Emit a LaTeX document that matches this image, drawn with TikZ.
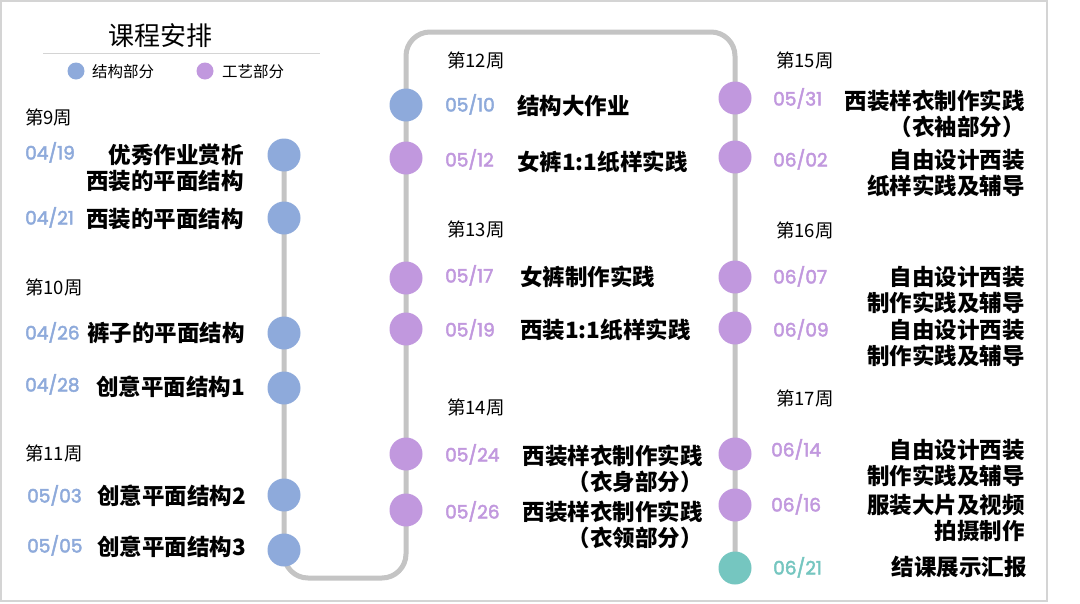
\documentclass[tikz,border=0pt]{standalone}
\usepackage{fontspec}
\usetikzlibrary{backgrounds}
\newfontfamily\cjk{Noto Sans CJK SC}
\newfontfamily\datef{Poppins}[FakeBold=2.5]
\definecolor{jg}{RGB}{142,170,219}
\definecolor{gy}{RGB}{193,152,222}
\definecolor{zj}{RGB}{117,198,192}
\definecolor{trackc}{RGB}{196,196,196}
\definecolor{bord}{RGB}{212,212,212}
\begin{document}
\begin{tikzpicture}[x=1pt,y=-1pt,
  dot/.style={circle,fill=#1,minimum size=33pt,inner sep=0pt},
  ldot/.style={circle,fill=#1,minimum size=17pt,inner sep=0pt},
  datel/.style={font=\datef\fontsize{18.5}{22}\selectfont,text=#1,anchor=base west,inner sep=0pt},
  wk/.style={font=\cjk\fontsize{18.5}{22}\selectfont,anchor=base west,inner sep=0pt},
  legtxt/.style={font=\cjk\fontsize{15.5}{18}\selectfont,anchor=base west,inner sep=0pt},
  itemr/.style={font=\cjk\bfseries\fontsize{22.5}{26}\selectfont,align=right,anchor=base east,inner sep=0pt},
  iteml/.style={font=\cjk\bfseries\fontsize{22.5}{26}\selectfont,anchor=base west,inner sep=0pt},
  trackline/.style={draw=trackc,line width=5pt,rounded corners=24pt}]
\useasboundingbox (0,0) rectangle (1080,603);

% title and legend
\node[font=\cjk\fontsize{26}{30}\selectfont,anchor=base,inner sep=0pt] (title) at (160,45) {课程安排};
\draw[bord,line width=1pt] (43,53) -- (320,53);
\node[ldot=jg] (lg1) at (76,71) {};
\node[legtxt] (lt1) at (92,77) {结构部分};
\node[ldot=gy] (lg2) at (205,71) {};
\node[legtxt] (lt2) at (222,77) {工艺部分};

% track corners
\coordinate (k1) at (284,578);
\coordinate (k2) at (406,578);
\coordinate (k3) at (406,32);
\coordinate (k4) at (735,32);

% dots
\node[dot=jg] (a1) at (284,155) {};
\node[dot=jg] (a2) at (284,218) {};
\node[dot=jg] (a3) at (284,333) {};
\node[dot=jg] (a4) at (284,388) {};
\node[dot=jg] (a5) at (284,495) {};
\node[dot=jg] (a6) at (284,550) {};
\node[dot=jg] (b1) at (406,105) {};
\node[dot=gy] (b2) at (406,158) {};
\node[dot=gy] (b3) at (406,278) {};
\node[dot=gy] (b4) at (406,329) {};
\node[dot=gy] (b5) at (406,454) {};
\node[dot=gy] (b6) at (406,510) {};
\node[dot=gy] (c1) at (735,98) {};
\node[dot=gy] (c2) at (735,157) {};
\node[dot=gy] (c3) at (735,277) {};
\node[dot=gy] (c4) at (735,328) {};
\node[dot=gy] (c5) at (735,454) {};
\node[dot=gy] (c6) at (735,505) {};
\node[dot=zj] (c7) at (735,568) {};

\begin{scope}[on background layer]
\fill[white] (0,0) rectangle (1080,603);
\draw[bord,line width=1.5pt] (1,1) rectangle (1047,601);
\draw[trackline] (a1.center) -- (k1) -- (k2) -- (k3) -- (k4) -- (c7.center);
\end{scope}

% week labels
\node[wk] (w9) at (25,124) {第9周};
\node[wk] (w10) at (25,294) {第10周};
\node[wk] (w11) at (25,460) {第11周};
\node[wk] (w12) at (447,67) {第12周};
\node[wk] (w13) at (447,236) {第13周};
\node[wk] (w14) at (447,414) {第14周};
\node[wk] (w15) at (776,67) {第15周};
\node[wk] (w16) at (776,237) {第16周};
\node[wk] (w17) at (776,405) {第17周};

% left column
\node[datel=jg] (da1) at (25,159.5) {04/19};
\node[datel=jg] (da2) at (25,224.5) {04/21};
\node[datel=jg] (da3) at (25,339.5) {04/26};
\node[datel=jg] (da4) at (25,391.5) {04/28};
\node[datel=jg] (da5) at (27,502.5) {05/03};
\node[datel=jg] (da6) at (27,552.5) {05/05};
\node[itemr] (ta1) at (244,189) {优秀作业赏析\\西装的平面结构};
\node[itemr] (ta2) at (244,227) {西装的平面结构};
\node[itemr] (ta3) at (245,341) {裤子的平面结构};
\node[itemr] (ta4) at (245,395) {创意平面结构1};
\node[itemr] (ta5) at (246,504) {创意平面结构2};
\node[itemr] (ta6) at (246,555) {创意平面结构3};

% middle column
\node[datel=jg] (db1) at (445,111.5) {05/10};
\node[datel=gy] (db2) at (445,166.5) {05/12};
\node[datel=gy] (db3) at (445,282.5) {05/17};
\node[datel=gy] (db4) at (445,336.5) {05/19};
\node[datel=gy] (db5) at (445,461.5) {05/24};
\node[datel=gy] (db6) at (445,518.5) {05/26};
\node[iteml] (tb1) at (517,114) {结构大作业};
\node[iteml] (tb2) at (517,170) {女裤1:1纸样实践};
\node[iteml] (tb3) at (520,285) {女裤制作实践};
\node[iteml] (tb4) at (520,338) {西装1:1纸样实践};
\node[itemr] (tb5) at (703,490) {西装样衣制作实践\\（衣身部分）};
\node[itemr] (tb6) at (703,546) {西装样衣制作实践\\（衣领部分）};

% right column
\node[datel=gy] (dc1) at (773,105.5) {05/31};
\node[datel=gy] (dc2) at (773,166.5) {06/02};
\node[datel=gy] (dc3) at (773,283.5) {06/07};
\node[datel=gy] (dc4) at (773,336.5) {06/09};
\node[datel=gy] (dc5) at (771,456.5) {06/14};
\node[datel=gy] (dc6) at (771,511.5) {06/16};
\node[datel=zj] (dc7) at (773,574.5) {06/21};
\node[itemr] (tc1) at (1025,135) {西装样衣制作实践\\（衣袖部分）};
\node[itemr] (tc2) at (1025,194) {自由设计西装\\纸样实践及辅导};
\node[itemr] (tc3) at (1025,311) {自由设计西装\\制作实践及辅导};
\node[itemr] (tc4) at (1025,364) {自由设计西装\\制作实践及辅导};
\node[itemr] (tc5) at (1025,484) {自由设计西装\\制作实践及辅导};
\node[itemr] (tc6) at (1025,539) {服装大片及视频\\拍摄制作};
\node[itemr] (tc7) at (1027,575) {结课展示汇报};
\end{tikzpicture}
\end{document}
